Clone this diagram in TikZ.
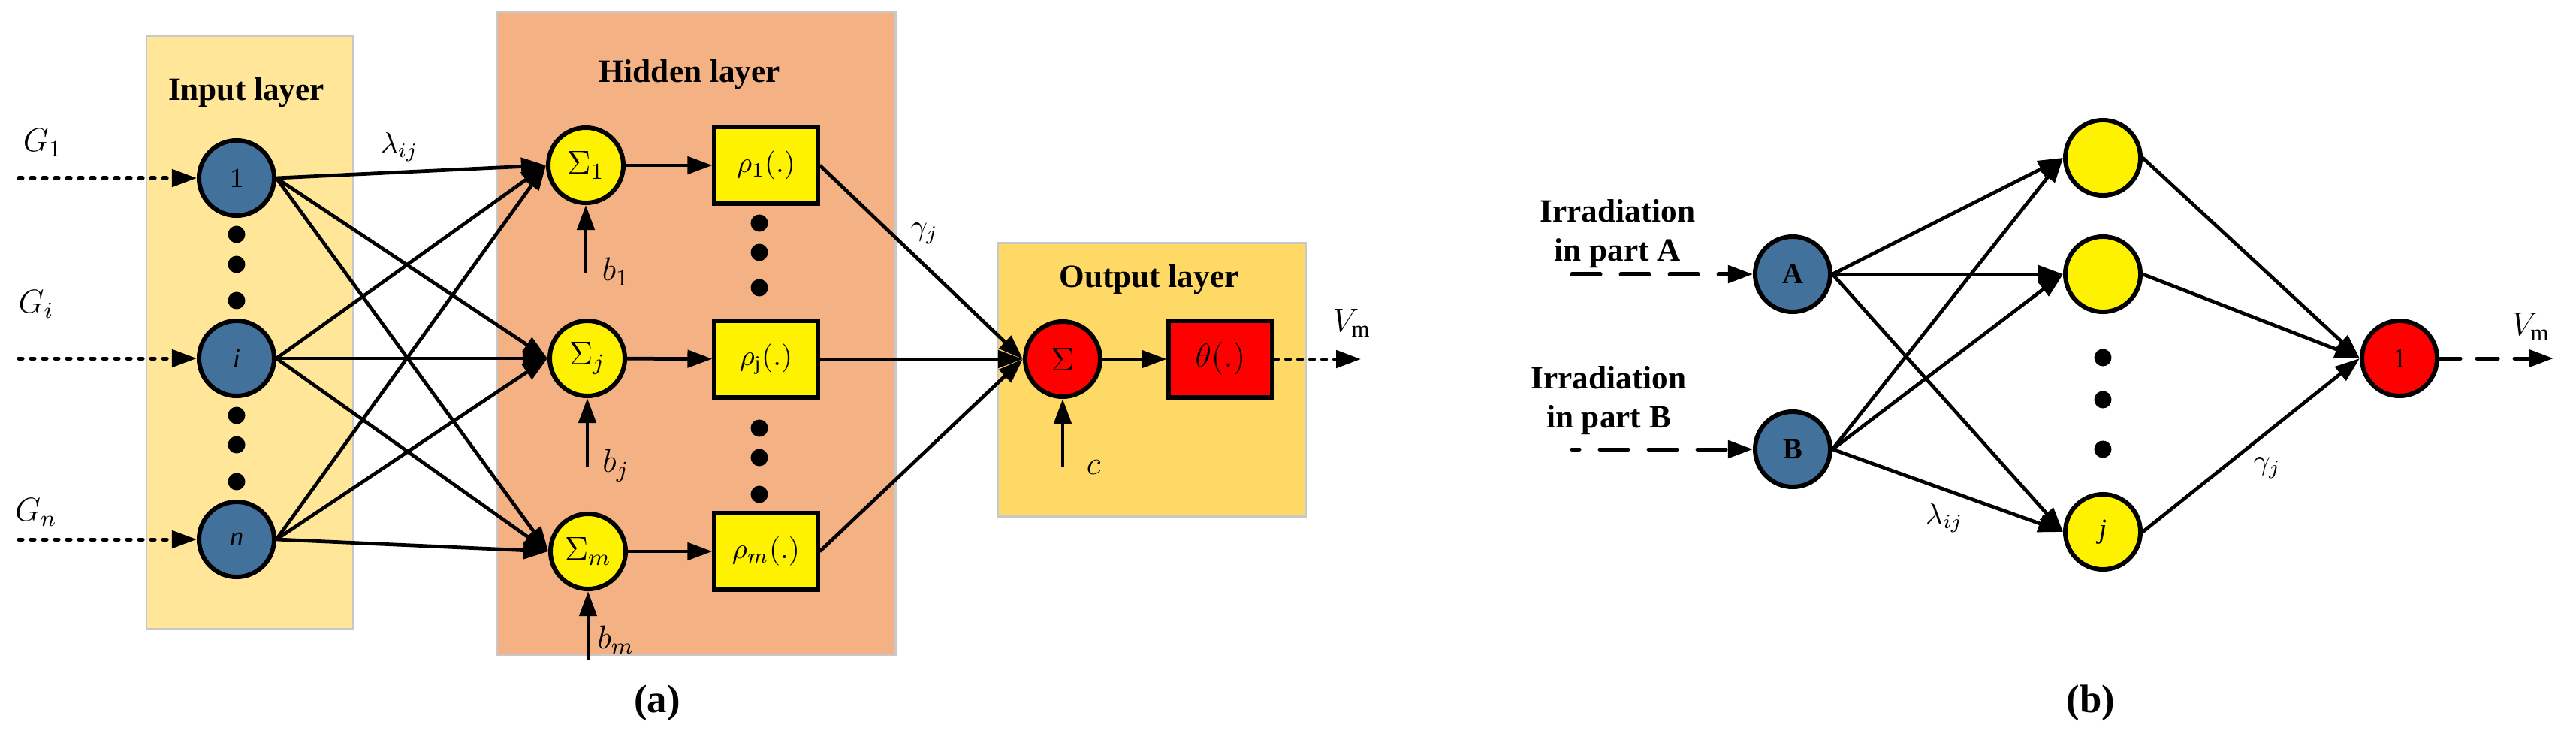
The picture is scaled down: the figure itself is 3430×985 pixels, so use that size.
\RequirePackage{fix-cm}
\documentclass[tikz,border=0pt]{standalone}
\usepackage{fontspec}
\setmainfont{Liberation Serif}
\usetikzlibrary{arrows.meta}
\definecolor{inbox}{HTML}{FFE699}
\definecolor{hidbox}{HTML}{F4B183}
\definecolor{outbox}{HTML}{FFD966}
\definecolor{nodeblue}{RGB}{66,113,156}
\definecolor{boxgray}{HTML}{C8C8C8}
\begin{document}
\begin{tikzpicture}[x=0.01cm,y=-0.01cm,
  layerbox/.style={rectangle, draw=boxgray, line width=0.8pt, inner sep=0pt},
  neuron/.style={circle, draw=black, line width=1.7pt, minimum size=1cm, inner sep=0pt},
  funcbox/.style={rectangle, draw=black, line width=1.7pt, minimum width=1.37cm, minimum height=1.01cm, inner sep=0pt},
  tipA/.style={-{Triangle[length=0.33cm,width=0.23cm]}},
  conn/.style={line width=1.35pt, tipA},
  dasha/.style={line width=0.05cm, line cap=round, dash pattern=on 0.05cm off 0.11cm, tipA},
  dashb/.style={line width=0.05cm, line cap=round, dash pattern=on 0.38cm off 0.27cm, tipA},
  dashc/.style={line width=0.05cm, line cap=round, dash pattern=on 0.28cm off 0.22cm, tipA},
  blackdot/.style={circle, fill=black, minimum size=0.23cm, inner sep=0pt},
  titletxt/.style={font=\fontsize{12.3}{14.8}\selectfont\bfseries, inner sep=0pt},
  mlabel/.style={font=\fontsize{12.5}{15}\selectfont, inner sep=0pt},
  slabel/.style={font=\fontsize{11}{13}\selectfont, inner sep=0pt},
  nlabel/.style={font=\fontsize{10.5}{12}\selectfont},
  sublabel/.style={font=\fontsize{15}{18}\selectfont\bfseries, inner sep=0pt}]
\fill[white] (0,0) rectangle (3430,985);
\useasboundingbox (0,0) rectangle (3430,985);

% ---------- (a) layer boxes ----------
\node[layerbox, fill=inbox, minimum width=2.75cm, minimum height=7.89cm] (inlayer) at (332.5,442.5) {};
\node[layerbox, fill=hidbox, minimum width=5.30cm, minimum height=8.55cm] (hidlayer) at (927,443.5) {};
\node[layerbox, fill=outbox, minimum width=4.09cm, minimum height=3.63cm] (outlayer) at (1533.5,505.5) {};

\node[titletxt, anchor=base] (tin) at (328,134) {Input layer};
\node[titletxt, anchor=base] (thid) at (918,110) {Hidden layer};
\node[titletxt, anchor=base] (tout) at (1530,383) {Output layer};

% input nodes
\node[neuron, fill=nodeblue, nlabel] (x1) at (315,237) {1};
\node[neuron, fill=nodeblue, nlabel] (xi) at (315,477) {\itshape i};
\node[neuron, fill=nodeblue, nlabel] (xn) at (315,718) {\itshape n};
\node[blackdot] (da1) at (315,312) {};
\node[blackdot] (da2) at (315,352) {};
\node[blackdot] (da3) at (315,400) {};
\node[blackdot] (da4) at (315,553) {};
\node[blackdot] (da5) at (315,592) {};
\node[blackdot] (da6) at (315,641) {};

% input arrows
\coordinate (g1s) at (25,237);
\coordinate (gis) at (25,477);
\coordinate (gns) at (25,718);
\draw[dasha] (g1s) -- (x1);
\draw[dasha] (gis) -- (xi);
\draw[dasha] (gns) -- (xn);
\node[mlabel] (lg1) at (57,190) {$G_1$};
\node[mlabel] (lgi) at (48,405) {$G_i$};
\node[mlabel] (lgn) at (48,682) {$G_n$};

% hidden sums
\node[neuron, fill=yellow, mlabel] (s1) at (780,220) {$\Sigma_1$};
\node[neuron, fill=yellow, mlabel] (sj) at (782,477) {$\Sigma_j$};
\node[neuron, fill=yellow, mlabel] (sm) at (783,734) {$\Sigma_m$};

% function boxes
\node[funcbox, fill=yellow, slabel] (r1) at (1020,220) {$\rho_1(.)$};
\node[funcbox, fill=yellow, slabel] (rj) at (1020,478) {$\rho_\mathrm{j}(.)$};
\node[funcbox, fill=yellow, slabel] (rm) at (1020,734) {$\rho_m(.)$};
\node[blackdot] (db1) at (1011,297) {};
\node[blackdot] (db2) at (1011,336) {};
\node[blackdot] (db3) at (1011,383) {};
\node[blackdot] (db4) at (1011,570) {};
\node[blackdot] (db5) at (1011,609) {};
\node[blackdot] (db6) at (1011,658) {};

% input -> hidden
\foreach \s in {x1,xi,xn}
  \foreach \t in {s1,sj,sm}
    \draw[conn] (\s.east) -- (\t.west);
\node[slabel] (llam) at (532,196) {$\lambda_{ij}$};

% sums -> functions
\draw[conn] (s1) -- (r1);
\draw[conn] (sj) -- (rj);
\draw[conn] (sm) -- (rm);

% biases
\coordinate (b1s) at (780,363);
\coordinate (bjs) at (782,622);
\coordinate (bms) at (783,878);
\draw[conn] (b1s) -- (s1.south);
\draw[conn] (bjs) -- (sj.south);
\draw[conn] (bms) -- (sm.south);
\node[mlabel] (lb1) at (820,362) {$b_1$};
\node[mlabel] (lbj) at (820,620) {$b_j$};
\node[mlabel] (lbm) at (820,852) {$b_m$};

% output layer
\node[neuron, fill=red, mlabel] (so) at (1415,478) {$\Sigma$};
\node[funcbox, fill=red, mlabel] (th) at (1625,478) {$\theta(.)$};
\foreach \s in {r1,rj,rm}
  \draw[conn] (\s.east) -- (so.west);
\node[slabel] (lgam) at (1231,311) {$\gamma_j$};
\draw[conn] (so) -- (th);
\coordinate (cs) at (1415,622);
\draw[conn] (cs) -- (so.south);
\node[mlabel] (lc) at (1456,622) {$c$};
\coordinate (vmae) at (1812,478);
\draw[dasha] (th) -- (vmae);
\node[mlabel] (lvma) at (1800,430) {$V_\mathrm{m}$};

\node[sublabel] (lsa) at (875,936) {(a)};

% ---------- (b) ----------
\node[neuron, fill=nodeblue, nlabel, font=\fontsize{11}{13}\selectfont\bfseries] (nA) at (2387,365) {A};
\node[neuron, fill=nodeblue, nlabel, font=\fontsize{11}{13}\selectfont\bfseries] (nB) at (2387,598) {B};
\node[neuron, fill=yellow] (y1) at (2800,210) {};
\node[neuron, fill=yellow] (y2) at (2800,365) {};
\node[neuron, fill=yellow, nlabel] (yj) at (2800,708) {\itshape j};
\node[blackdot] (dc1) at (2800,476) {};
\node[blackdot] (dc2) at (2800,532) {};
\node[blackdot] (dc3) at (2800,598) {};
\node[neuron, fill=red, nlabel] (rb) at (3195,477) {1};

\node[titletxt, align=center, anchor=north] (tirA) at (2154,265) {Irradiation\\in part A};
\node[titletxt, align=center, anchor=north] (tirB) at (2142,487) {Irradiation\\in part B};
\coordinate (ias) at (2093,365);
\coordinate (ibs) at (2093,598);
\draw[dashb] (ias) -- (nA);
\draw[dashb, dash phase=0.28cm] (ibs) -- (nB);

\foreach \s in {nA,nB}
  \foreach \t in {y1,y2,yj}
    \draw[conn] (\s.east) -- (\t.west);
\foreach \s in {y1,y2,yj}
  \draw[conn] (\s.east) -- (rb.west);
\node[slabel] (llamb) at (2589,690) {$\lambda_{ij}$};
\node[slabel] (lgamb) at (3019,623) {$\gamma_j$};
\coordinate (vmbe) at (3400,477);
\draw[dashc] (rb) -- (vmbe);
\node[mlabel] (lvmb) at (3370,435) {$V_\mathrm{m}$};

\node[sublabel] (lsb) at (2784,936) {(b)};
\end{tikzpicture}
\end{document}
